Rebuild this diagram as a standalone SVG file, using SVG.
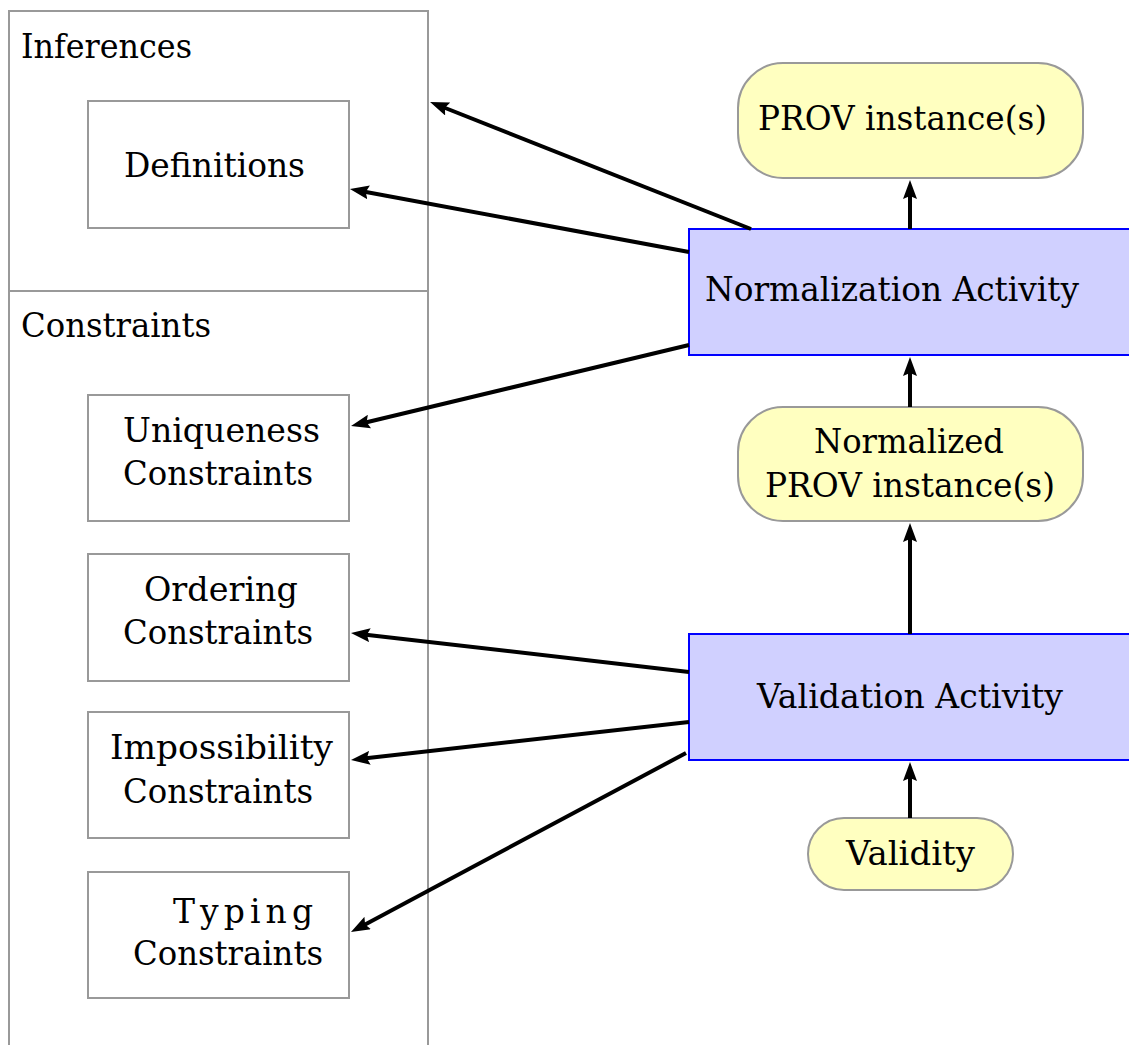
<svg xmlns="http://www.w3.org/2000/svg" width="1129" height="1045" viewBox="0 0 1129 1045">
<defs>
<marker id="ah" viewBox="0 0 19 14" refX="4" refY="7" markerWidth="19" markerHeight="14" markerUnits="userSpaceOnUse" orient="auto">
<path d="M0,0 L19,7 L0,14 L3,7 z" fill="#000"/>
</marker>
<style>
.box{fill:#fff;stroke:#999;stroke-width:2}
.cont{fill:none;stroke:#999;stroke-width:2}
.doc{fill:#ffffc0;stroke:#999;stroke-width:2}
.act{fill:#d0d0ff;stroke:#0000ff;stroke-width:2}
text{font-family:"DejaVu Serif","Liberation Serif",serif;font-size:33px;fill:#000}
.e{stroke:#000;stroke-width:4;fill:none;marker-end:url(#ah)}
</style>
</defs>
<rect width="1129" height="1045" fill="#fff"/>
<g id="inferences">
<rect class="cont" x="9" y="11" width="419" height="280"/>
<text x="21" y="58" textLength="171" lengthAdjust="spacingAndGlyphs">Inferences</text>
</g>
<g id="constraints">
<rect class="cont" x="9" y="291" width="419" height="770"/>
<text x="21" y="337" textLength="190" lengthAdjust="spacingAndGlyphs">Constraints</text>
</g>
<g id="definitions">
<rect class="box" x="88" y="101" width="261" height="127"/>
<text x="124" y="177" textLength="181" lengthAdjust="spacingAndGlyphs">Definitions</text>
</g>
<g id="uniqueness">
<rect class="box" x="88" y="395" width="261" height="126"/>
<text x="123" y="442" textLength="197" lengthAdjust="spacingAndGlyphs">Uniqueness</text>
<text x="123" y="485" textLength="190" lengthAdjust="spacingAndGlyphs">Constraints</text>
</g>
<g id="ordering">
<rect class="box" x="88" y="554" width="261" height="127"/>
<text x="144" y="601" textLength="154" lengthAdjust="spacingAndGlyphs">Ordering</text>
<text x="123" y="644" textLength="190" lengthAdjust="spacingAndGlyphs">Constraints</text>
</g>
<g id="impossibility">
<rect class="box" x="88" y="712" width="261" height="126"/>
<text x="110" y="759" textLength="223" lengthAdjust="spacingAndGlyphs">Impossibility</text>
<text x="123" y="803" textLength="190" lengthAdjust="spacingAndGlyphs">Constraints</text>
</g>
<g id="typing">
<rect class="box" x="88" y="872" width="261" height="126"/>
<text x="173" y="923" textLength="140" lengthAdjust="spacing">Typing</text>
<text x="133" y="965" textLength="190" lengthAdjust="spacingAndGlyphs">Constraints</text>
</g>
<g id="prov">
<rect class="doc" x="738" y="63" width="345" height="115" rx="45" ry="45"/>
<text x="758" y="130" textLength="289" lengthAdjust="spacingAndGlyphs">PROV instance(s)</text>
</g>
<g id="normalization">
<rect class="act" x="689" y="229" width="460" height="126"/>
<text x="705" y="301" textLength="374" lengthAdjust="spacingAndGlyphs">Normalization Activity</text>
</g>
<g id="normalized">
<rect class="doc" x="738" y="407" width="345" height="114" rx="45" ry="45"/>
<text x="814" y="453" textLength="190" lengthAdjust="spacingAndGlyphs">Normalized</text>
<text x="765" y="497" textLength="290" lengthAdjust="spacingAndGlyphs">PROV instance(s)</text>
</g>
<g id="validation">
<rect class="act" x="689" y="634" width="460" height="126"/>
<text x="757" y="708" textLength="306" lengthAdjust="spacingAndGlyphs">Validation Activity</text>
</g>
<g id="validity">
<rect class="doc" x="808" y="818" width="205" height="72" rx="36" ry="36"/>
<text x="846" y="865" textLength="129" lengthAdjust="spacingAndGlyphs">Validity</text>
</g>
<g id="connectors">
<line class="e" x1="910" y1="229" x2="910" y2="195"/>
<line class="e" x1="910" y1="407" x2="910" y2="372"/>
<line class="e" x1="910" y1="634" x2="910" y2="538"/>
<line class="e" x1="910" y1="818" x2="910" y2="777"/>
<line class="e" x1="751" y1="229" x2="444" y2="107.5"/>
<line class="e" x1="689" y1="252" x2="364.7" y2="191.7"/>
<line class="e" x1="689" y1="345" x2="365.6" y2="422.5"/>
<line class="e" x1="689" y1="672" x2="365.9" y2="634.7"/>
<line class="e" x1="689" y1="722" x2="365.9" y2="758.3"/>
<line class="e" x1="686" y1="753" x2="364.2" y2="924.9"/>
</g>
</svg>
